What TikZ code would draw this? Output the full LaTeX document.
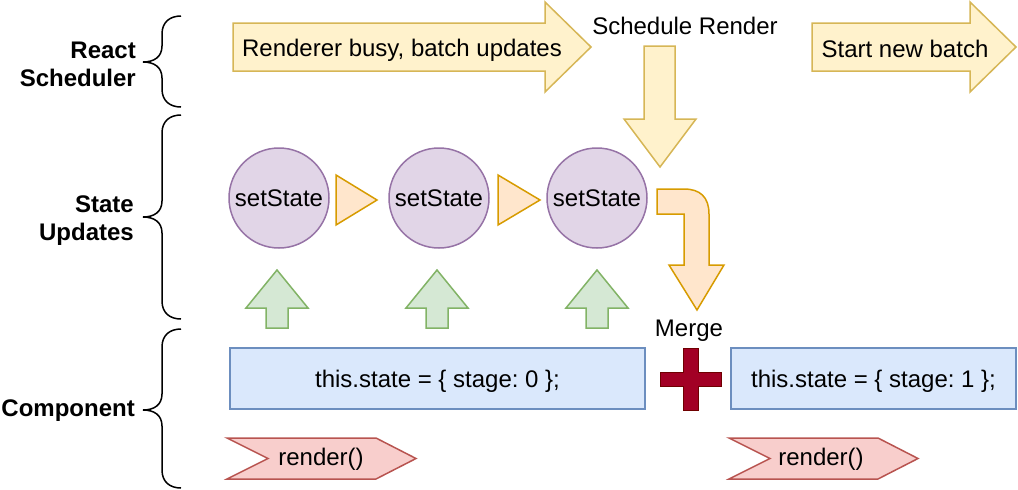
\documentclass[tikz,border=0pt]{standalone}
\usepackage{fontspec}
\setmainfont{Liberation Sans}
\frenchspacing
\definecolor{ylwF}{HTML}{FFF2CC}\definecolor{ylwD}{HTML}{D6B656}
\definecolor{purF}{HTML}{E1D5E7}\definecolor{purD}{HTML}{9673A6}
\definecolor{orgF}{HTML}{FFE6CC}\definecolor{orgD}{HTML}{D79B00}
\definecolor{grnF}{HTML}{D5E8D4}\definecolor{grnD}{HTML}{82B366}
\definecolor{bluF}{HTML}{DAE8FC}\definecolor{bluD}{HTML}{6C8EBF}
\definecolor{redF}{HTML}{F8CECC}\definecolor{redD}{HTML}{B85450}
\definecolor{crsF}{HTML}{A20025}\definecolor{crsD}{HTML}{6F0000}
\tikzset{
  txt/.style={inner sep=0pt, font=\fontsize{24}{28}\selectfont},
  lbl/.style={inner sep=0pt, align=right, anchor=east, font=\fontsize{24}{28}\selectfont\bfseries},
  ylwshape/.style={fill=ylwF, draw=ylwD, line width=1.5pt, line join=miter},
  purshape/.style={fill=purF, draw=purD, line width=1.5pt},
  orgshape/.style={fill=orgF, draw=orgD, line width=1.5pt},
  grnshape/.style={fill=grnF, draw=grnD, line width=1.5pt},
  blushape/.style={fill=bluF, draw=bluD, line width=1.5pt},
  redshape/.style={fill=redF, draw=redD, line width=1.5pt},
  crsshape/.style={fill=crsF, draw=crsD, line width=1pt},
  bracestyle/.style={draw=black, line width=1.5pt},
}
\begin{document}
\begin{tikzpicture}[x=1pt, y=-1pt]
\useasboundingbox (0,0) rectangle (1018,490);

% ---- braces ----
\foreach \T/\M/\B in {16/62/107, 115/217/319, 329/410/488}{
  \draw[bracestyle] (181,\T) .. controls (170,\T) and (162,\T+6) .. (162,\T+18)
     -- (162,\M-16) .. controls (162,\M-5) and (154,\M) .. (143,\M)
     .. controls (154,\M) and (162,\M+5) .. (162,\M+16)
     -- (162,\B-18) .. controls (162,\B-6) and (170,\B) .. (181,\B);
}

% ---- row labels ----
\node[lbl] (lsched) at (136,64) {React\\Scheduler};
\node[lbl] (lstate) at (134,221) {State\\Updates};
\node[lbl] (lcomp) at (135,411) {Component};

% ---- scheduler arrows ----
\draw[ylwshape] (233,23) -- (545,23) -- (545,2) -- (591,47) -- (545,92) -- (545,71) -- (233,71) -- cycle;
\node[txt] (tbusy) at (402,50) {Renderer busy, batch updates};

\draw[ylwshape] (812,23) -- (970,23) -- (970,2) -- (1016,47) -- (970,92) -- (970,71) -- (812,71) -- cycle;
\node[txt] (tnew) at (905,49) {Start new batch};

\node[txt] (tsched) at (685,26) {Schedule Render};
\draw[ylwshape] (644,46) -- (675,46) -- (675,119) -- (696,119) -- (660,167) -- (624,119) -- (644,119) -- cycle;

% ---- setState circles ----
\foreach \n/\cx in {s1/279, s2/439, s3/597}{
  \node[purshape, circle, minimum size=100pt, inner sep=0pt, font=\fontsize{24}{28}\selectfont] (\n) at (\cx,198) {setState};
}
\draw[orgshape] (336,175) -- (377,200) -- (336,225) -- cycle;
\draw[orgshape] (498,175) -- (540,200) -- (498,225) -- cycle;

% bent arrow
\draw[orgshape, line join=miter] (657,189) -- (684,189) .. controls (700,189) and (709,197) .. (709,214)
   -- (709,265) -- (724,265) -- (697,310) -- (669,265) -- (684,265) -- (684,214) -- (657,214) -- cycle;

% ---- green up arrows ----
\foreach \cx in {277, 437, 597}{
  \draw[grnshape] (\cx,270) -- (\cx+31,308) -- (\cx+11,308) -- (\cx+11,328) -- (\cx-11,328) -- (\cx-11,308) -- (\cx-31,308) -- cycle;
}

% ---- component boxes ----
\node[blushape, txt, text depth=0pt, minimum width=415pt, minimum height=61pt, inner sep=0pt] (b1) at (437.5,378.5) {this.state = \{ stage: 0 \};};
\node[blushape, txt, text depth=0pt, minimum width=285pt, minimum height=61pt, inner sep=0pt] (b2) at (873.5,378.5) {this.state = \{ stage: 1 \};};

% merge cross
\draw[crsshape] (683,348) -- (698,348) -- (698,372) -- (721,372) -- (721,386) -- (698,386) -- (698,410) -- (683,410) -- (683,386) -- (660,386) -- (660,372) -- (683,372) -- cycle;
\node[txt] (tmerge) at (689,331) {Merge};

% render() steps
\draw[redshape] (227,438) -- (376,438) -- (416,458.5) -- (376,479) -- (227,479) -- (268,458.5) -- cycle;
\node[txt] (r1) at (321,459) {render()};
\draw[redshape] (729,438) -- (878,438) -- (918,458.5) -- (878,479) -- (729,479) -- (770,458.5) -- cycle;
\node[txt] (r2) at (821,459) {render()};
\end{tikzpicture}
\end{document}
